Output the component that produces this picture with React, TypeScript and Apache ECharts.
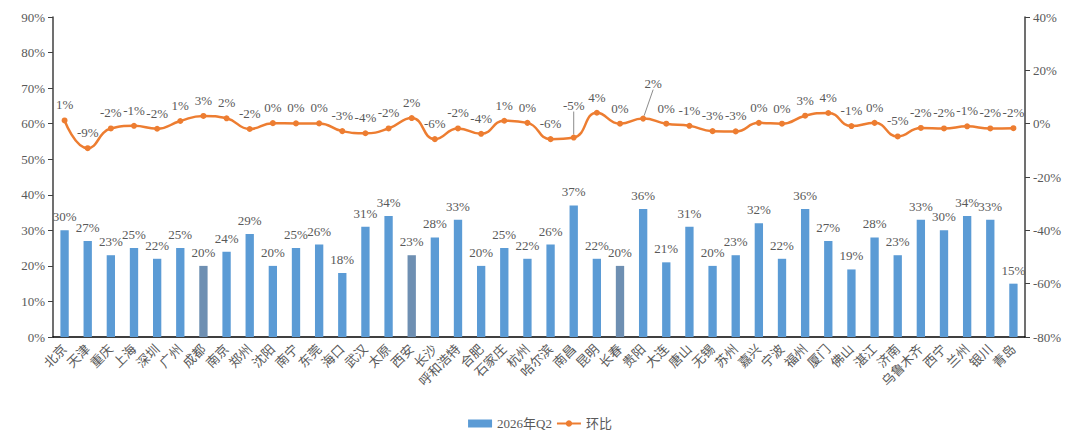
import React, { useEffect, useRef } from "react";
import * as echarts from "echarts";

const cities = ["北京","天津","重庆","上海","深圳","广州","成都","南京","郑州","沈阳","南宁","东莞","海口","武汉","太原","西安","长沙","呼和浩特","合肥","石家庄","杭州","哈尔滨","南昌","昆明","长春","贵阳","大连","唐山","无锡","苏州","嘉兴","宁波","福州","厦门","佛山","湛江","济南","乌鲁木齐","西宁","兰州","银川","青岛"];
const q2Values = [30,27,23,25,22,25,20,24,29,20,25,26,18,31,34,23,28,33,20,25,22,26,37,22,20,36,21,31,20,23,32,22,36,27,19,28,23,33,30,34,33,15];
const momValues = [1.2,-9.2,-1.8,-0.8,-1.9,1.0,2.9,2.0,-2.0,0.2,0.1,0.1,-2.8,-3.6,-1.8,2.1,-5.8,-1.8,-3.8,1.1,0.3,-5.8,-5.2,4.1,0.0,1.9,0.0,-0.8,-2.8,-2.9,0.3,0.0,3.0,4.0,-0.9,0.3,-4.8,-1.6,-1.8,-1.0,-1.8,-1.7];
const greyBars = ["成都","西安","长春"];
const leftTicks = { min: 0, max: 90, interval: 10 };
const rightTicks = { min: -80, max: 40, interval: 20 };

const FONT = "'Liberation Serif', 'Times New Roman', 'Noto Sans CJK SC', serif";
const TXT = "#595959";

export default function App() {
  const ref = useRef<HTMLDivElement>(null);
  useEffect(() => {
    if (!ref.current) return;
    const chart = echarts.init(ref.current, undefined, { renderer: "svg" });
    const option = {
      animation: false,
      textStyle: { fontFamily: FONT },
      grid: { left: 45, right: 47, top: 9, bottom: 99 },
      legend: {
        bottom: 1,
        left: "center",
        itemGap: 4,
        textStyle: { color: TXT, fontSize: 13, fontFamily: FONT },
        data: [
          { name: "2026年Q2", icon: "rect", itemStyle: { color: "#5B9BD5" } },
          { name: "环比" },
        ],
        itemWidth: 24,
        itemHeight: 8,
      },
      xAxis: {
        type: "category",
        data: cities,
        axisLine: { lineStyle: { color: "#000", width: 1.5 } },
        axisTick: { inside: true, length: 5, lineStyle: { color: "#000" } },
        axisLabel: { rotate: 45, color: TXT, fontSize: 13, fontFamily: FONT, interval: 0, margin: 10 },
      },
      yAxis: [
        {
          type: "value",
          ...leftTicks,
          axisLine: { show: true, lineStyle: { color: "#404040", width: 1.5 } },
          axisTick: { show: true, length: 5, lineStyle: { color: "#404040" } },
          splitLine: { show: false },
          axisLabel: { formatter: "{value}%", color: TXT, fontSize: 13, fontFamily: FONT, margin: 8 },
        },
        {
          type: "value",
          ...rightTicks,
          axisLine: { show: true, lineStyle: { color: "#404040", width: 1.5 } },
          axisTick: { show: true, length: 5, lineStyle: { color: "#404040" } },
          splitLine: { show: false },
          axisLabel: { formatter: "{value}%", color: TXT, fontSize: 13, fontFamily: FONT, margin: 8 },
        },
      ],
      series: [
        {
          name: "2026年Q2",
          type: "bar",
          yAxisIndex: 0,
          barWidth: "36%",
          data: q2Values.map((v, i) => ({
            value: v,
            itemStyle: { color: greyBars.includes(cities[i]) ? "#6E8FB2" : "#5B9BD5" },
          })),
          label: {
            show: true,
            position: "top",
            formatter: (p: any) => p.value + "%",
            color: TXT,
            fontSize: 13,
            fontFamily: FONT,
            distance: 7,
          },
        },
        {
          name: "环比",
          type: "line",
          yAxisIndex: 1,
          smooth: 0.5,
          symbol: "circle",
          symbolSize: 6,
          itemStyle: { color: "#ED7D31" },
          lineStyle: { color: "#ED7D31", width: 2.5 },
          data: momValues.map((v, i) => {
            const lead = i === 22 || i === 25;
            return lead
              ? { value: v, labelLine: { show: true, lineStyle: { color: "#8c8c8c", width: 1 } } }
              : { value: v };
          }),
          labelLayout: (p: any) => {
            if (p.dataIndex === 22) return { dy: -17 };
            if (p.dataIndex === 25) return { dx: 10, dy: -20 };
            return {};
          },
          label: {
            show: true,
            position: "top",
            formatter: (p: any) => Math.round(p.value) + "%",
            color: TXT,
            fontSize: 13,
            fontFamily: FONT,
            distance: 6,
          },
        },
      ],
    };
    chart.setOption(option as any);
    return () => chart.dispose();
  }, []);
  return <div ref={ref} style={{ width: 1064, height: 428 }} />;
}
